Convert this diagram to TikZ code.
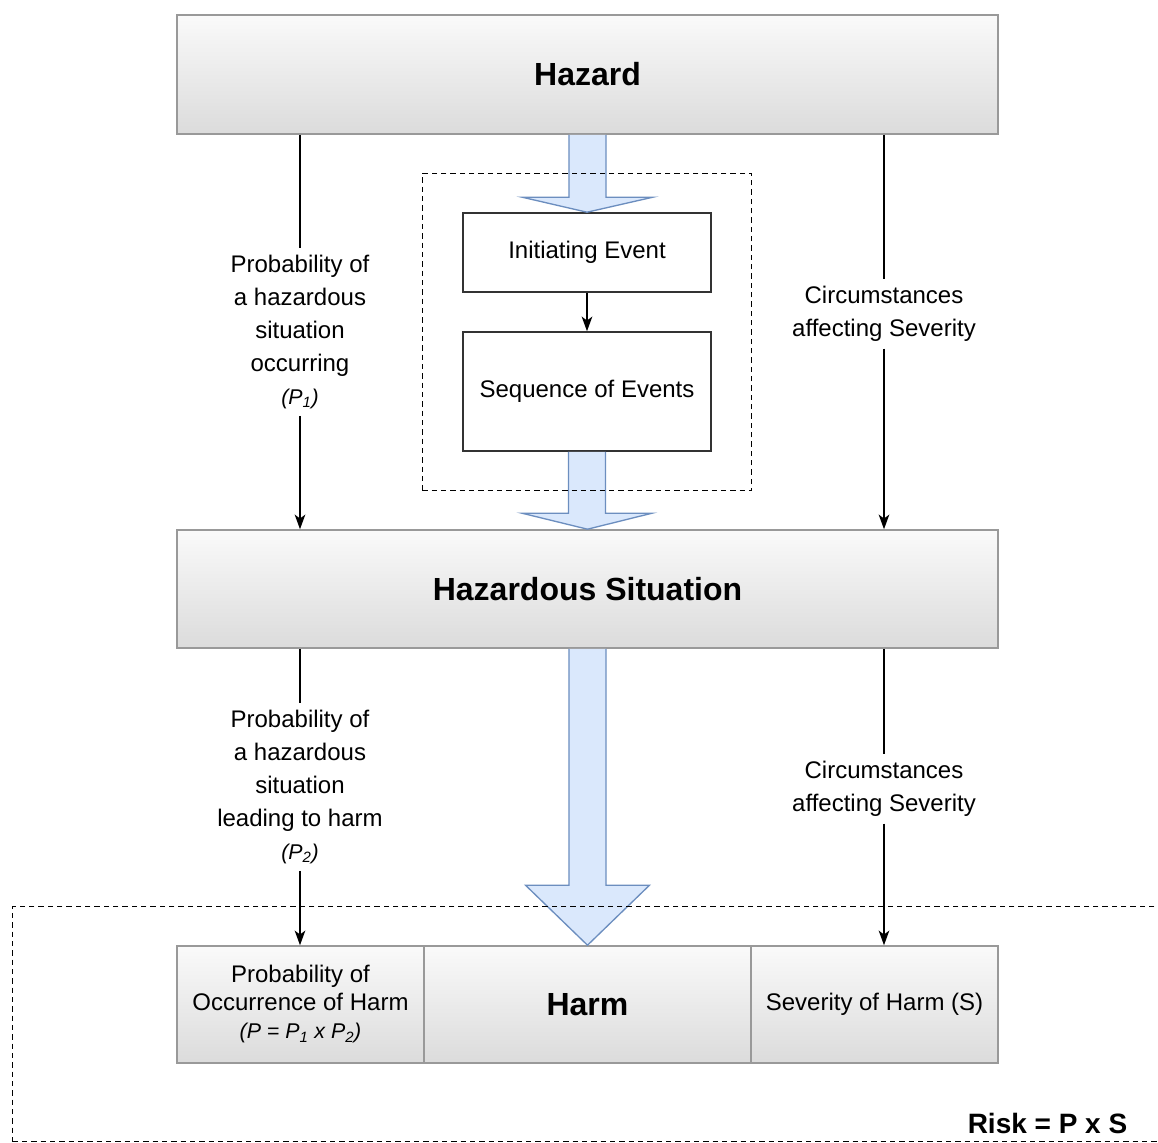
\documentclass[tikz,border=0pt]{standalone}
\usepackage{fontspec}
\setmainfont{Liberation Sans}
\usetikzlibrary{arrows.meta,positioning,fit,calc}

\definecolor{arrowfill}{HTML}{DAE8FC}
\definecolor{arrowline}{HTML}{6C8EBF}

% wide hollow arrow between two nodes: from, to, head length, head half width
\newcommand{\fatarrow}[4]{%
  \filldraw[fatarrow] let \p1=(#1), \p2=(#2) in
    (\x1-13.9pt,\y1) -- (\x1-13.9pt,\y2+#3) -- (\x1-#4,\y2+#3) -- (\x2,\y2)
    -- (\x1+#4,\y2+#3) -- (\x1+13.9pt,\y2+#3) -- (\x1+13.9pt,\y1);}

\begin{document}
\begin{tikzpicture}[
    x=0.75pt, y=-0.75pt,
    bigbox/.style={rectangle, draw=black!40, line width=1.2pt,
                top color=black!2, bottom color=black!14,
                minimum width=615.75pt, minimum height=89.25pt,
                font=\fontsize{24}{28}\selectfont\bfseries},
    evtbox/.style={rectangle, draw=black!80, line width=1.2pt, fill=white,
                minimum width=186pt, font=\fontsize{18}{22}\selectfont},
    harmbox/.style={rectangle, draw=black!40, line width=1.2pt,
                top color=black!2, bottom color=black!14,
                minimum height=87.75pt, align=center},
    lbl/.style={align=center, font=\fontsize{18}{24.75}\selectfont, inner sep=5pt},
    conn/.style={line width=0.9pt},
    arrow/.style={-{Stealth[length=11pt,width=8pt,inset=3pt]}, line width=0.9pt},
    fatarrow/.style={fill=arrowfill, draw=arrowline, line width=1pt},
    dashbox/.style={draw, dash pattern=on 4pt off 3pt, line width=1pt}
]
\useasboundingbox (0,0) rectangle (1158,1143);

% Hazard
\node[bigbox] (hazard) at (587.5,74.5) {Hazard};

% Events
\node[evtbox, minimum height=59.25pt] (initevt) at (587,252.5) {Initiating Event};
\node[evtbox, minimum height=89.25pt] (seqevt) at (587,391.5) {Sequence of Events};
\draw[arrow] (initevt) -- (seqevt);

% Hazardous Situation
\node[bigbox, minimum height=88.5pt] (hazsit) at (587.5,589) {Hazardous Situation};

% Harm row
\node[harmbox, minimum width=185.25pt, font=\fontsize{18}{21}\selectfont] (probharm) at (300.5,1004.5)
    {Probability of\\Occurrence of Harm\\{\fontsize{16}{21}\selectfont\itshape (P = P\textsubscript{1} x P\textsubscript{2})}};
\node[harmbox, minimum width=245.25pt, font=\fontsize{24}{28}\selectfont\bfseries] (harm) at (587.5,1004.5) {Harm};
\node[harmbox, minimum width=185.25pt, font=\fontsize{18}{21}\selectfont] (sevharm) at (874.5,1004.5) {Severity of Harm (S)};

% Wide arrows
\fatarrow{hazard.south}{initevt.north}{11.25pt}{49pt}
\fatarrow{seqevt.south}{hazsit.north}{12pt}{48.75pt}
\fatarrow{hazsit.south}{harm.north}{45pt}{46.5pt}

% Dashed frames
\node[dashbox, fit=(initevt)(seqevt), inner xsep=30pt, inner ysep=29pt] (eventbox) {};
\node[dashbox, anchor=north west, minimum width=900pt, minimum height=176.25pt] (riskbox) at (12,906) {};
\node[anchor=east, font=\fontsize{21}{24}\selectfont\bfseries] (risk) at (1132,1123) {Risk = P x S};

% P1 and severity
\node[lbl] (probA) at (300,332) {Probability of\\a hazardous\\situation\\occurring\\{\fontsize{16}{24.75}\selectfont\itshape (P\textsubscript{1})}};
\draw[conn] (hazard.south -| probA) -- (probA.north);
\draw[arrow] (probA.south) -- (hazsit.north -| probA);

\node[lbl] (circA) at (884,314) {Circumstances\\affecting Severity};
\draw[conn] (hazard.south -| circA) -- (circA.north);
\draw[arrow] (circA.south) -- (hazsit.north -| circA);

% P2 and severity
\node[lbl] (probB) at (300,787) {Probability of\\a hazardous\\situation\\leading to harm\\{\fontsize{16}{24.75}\selectfont\itshape (P\textsubscript{2})}};
\draw[conn] (hazsit.south -| probB) -- (probB.north);
\draw[arrow] (probB.south) -- (probharm.north -| probB);

\node[lbl] (circB) at (884,789) {Circumstances\\affecting Severity};
\draw[conn] (hazsit.south -| circB) -- (circB.north);
\draw[arrow] (circB.south) -- (sevharm.north -| circB);

\end{tikzpicture}
\end{document}
